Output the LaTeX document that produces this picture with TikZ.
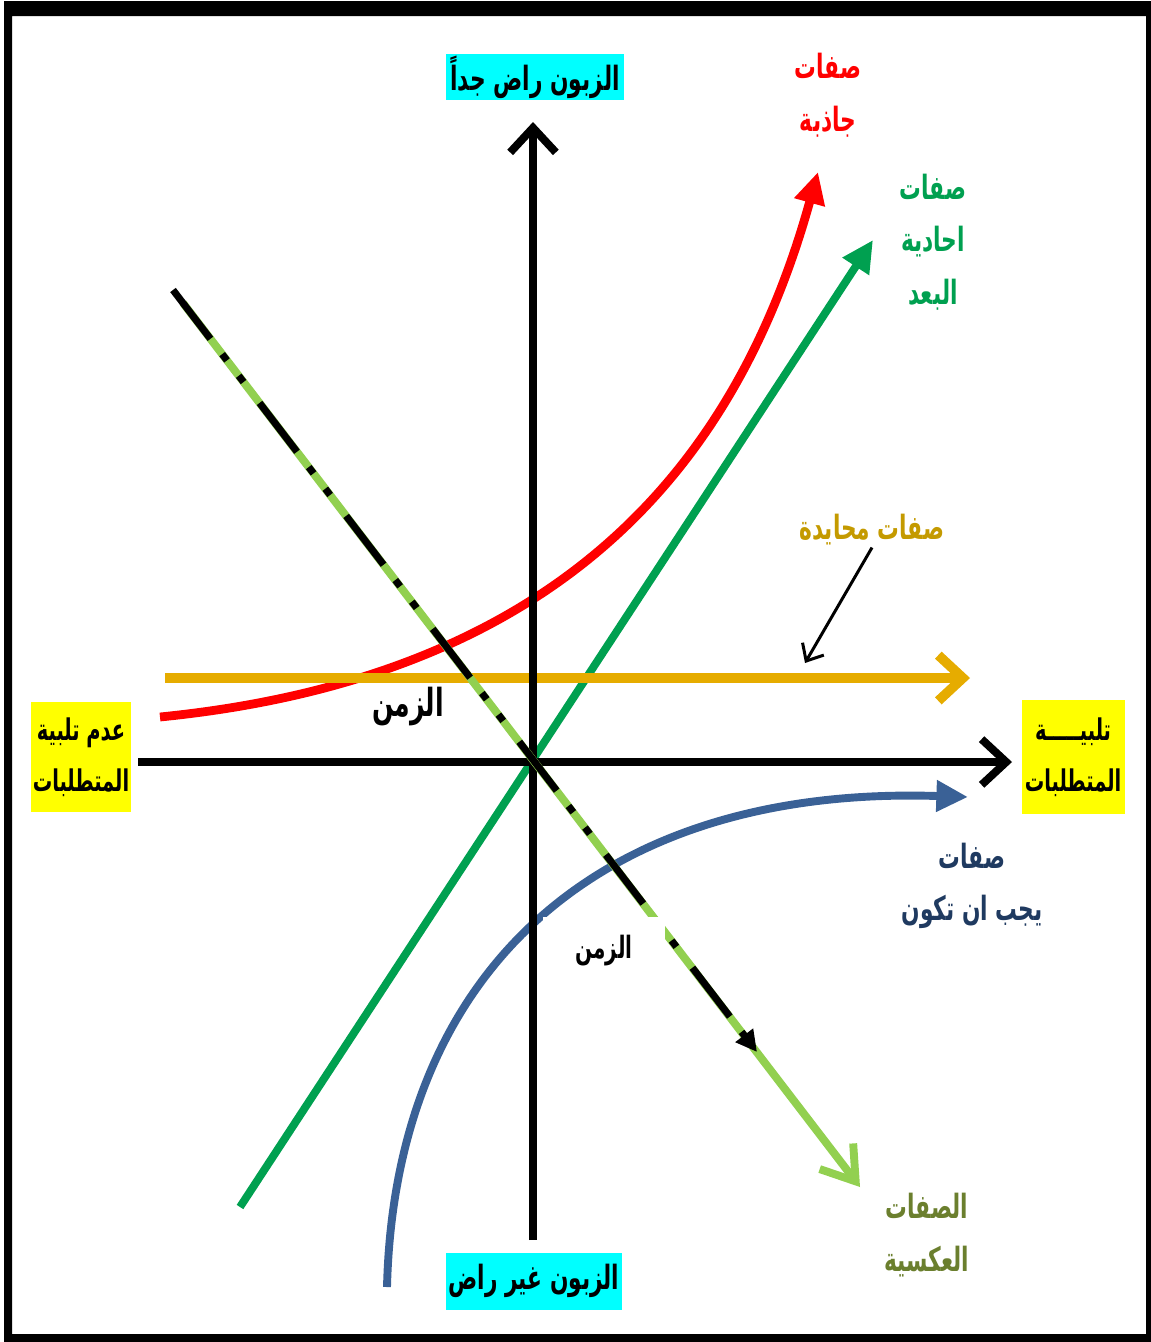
\documentclass[tikz,border=0pt]{standalone}
\usepackage{fontspec}
\newfontfamily\arabicfont[Script=Arabic, FakeStretch=0.65]{DejaVu Sans}
\TeXXeTstate=1
\usetikzlibrary{arrows.meta}

\newcommand{\artext}[1]{\beginR #1\endR}

\definecolor{axiscyan}{HTML}{00FFFF}
\definecolor{reqyellow}{HTML}{FFFF00}
\definecolor{attractred}{HTML}{FF0000}
\definecolor{onedgreen}{HTML}{00A050}
\definecolor{neutralgold}{HTML}{E6AC00}
\definecolor{neutraltext}{HTML}{C49A00}
\definecolor{mustblue}{HTML}{3A6196}
\definecolor{mustnavy}{HTML}{1F3A60}
\definecolor{reverselime}{HTML}{92D050}
\definecolor{reverseolive}{HTML}{6B7F2E}

\tikzset{
  lbl/.style={font=\arabicfont\bfseries\fontsize{19}{30}\selectfont, align=center, inner sep=1pt},
  axisbox/.style={lbl, fill=axiscyan},
  reqbox/.style={lbl, fill=reqyellow, font=\arabicfont\bfseries\fontsize{17}{29}\selectfont},
  barb/.style={-{Straight Barb[length=14pt,width=26pt]}},
  tri/.style={-{Triangle[length=18pt,width=17pt]}}
}

\begin{document}
\begin{tikzpicture}[x=0.02cm, y=-0.02cm]
\useasboundingbox (0,0) rectangle (1151,1342);
% frame
\fill[even odd rule] (4,1) rectangle (1151,1342) (12,16) rectangle (1146,1334);

% end points
\coordinate (xl) at (138,762);
\coordinate (xr) at (1012,762);
\coordinate (yb) at (533,1240);
\coordinate (yt) at (533,122);
\coordinate (r0) at (160,717);
\coordinate (r1) at (818,172);
\coordinate (g0) at (240,1207);
\coordinate (g1) at (873,240);
\coordinate (b0) at (387,1287);
\coordinate (b1) at (968,797);
\coordinate (n0) at (165,678);
\coordinate (n1) at (970,678);
\coordinate (t0) at (173,290);
\coordinate (t1) at (860,1187);
\coordinate (tb) at (757,1052);
\coordinate (np) at (805,663);

% curves
\draw[attractred, line width=5pt, tri] (r0) .. controls (580,675) and (742,445) .. (r1);
\draw[onedgreen, line width=4.5pt, tri] (g0) -- (g1);
\draw[mustblue, line width=4.5pt, tri] (b0) .. controls (395,970) and (600,785) .. (b1);
\draw[neutralgold, line width=5.5pt, barb] (n0) -- (n1);

% axes
\draw[line width=4.5pt, barb] (xl) -- (xr);
\draw[line width=4.5pt, barb] (yb) -- (yt);

% time
\draw[reverselime, line width=4.5pt, -{Straight Barb[length=18pt,width=24pt]}] ([shift={(10,13)}]t0) -- (t1);
\draw[line width=4pt, dash pattern=on 35pt off 11pt on 4.5pt off 11pt on 4.5pt off 15pt, -{Triangle[length=12pt,width=12pt]}] (t0) -- (tb);

% labels
\node (satisfied) [axisbox, minimum width=3.56cm, minimum height=0.94cm] at (535,77) {\artext{الزبون راض جداً}};
\node (unsatisfied) [axisbox, minimum width=3.52cm, minimum height=1.14cm] at (534,1281) {\artext{الزبون غير راض}};
\node (notmet) [reqbox, minimum width=1.94cm, minimum height=2.2cm] at (81,757) {\artext{عدم تلبية}\\\artext{المتطلبات}};
\node (met) [reqbox, minimum width=2.06cm, minimum height=2.3cm] at (1073,757) {\artext{تلبيـــــة}\\\artext{المتطلبات}};
\node (attract) [lbl, text=attractred] at (828,95) {\artext{صفات}\\\artext{جاذبة}};
\node (oned) [lbl, text=onedgreen] at (933,242) {\artext{صفات}\\\artext{احادية}\\\artext{البعد}};
\node (neutral) [lbl, text=neutraltext] at (872,530) {\artext{صفات محايدة}};
\node (mustbe) [lbl, text=mustnavy] at (972,886) {\artext{صفات}\\\artext{يجب ان تكون}};
\node (reverse) [lbl, text=reverseolive] at (927,1235) {\artext{الصفات}\\\artext{العكسية}};
\node (time1) [lbl, font=\arabicfont\bfseries\fontsize{22}{26}\selectfont] at (408,707) {\artext{الزمن}};
\node (time2) [lbl, font=\arabicfont\bfseries\fontsize{17.5}{20}\selectfont, fill=white, minimum width=2.44cm, minimum height=1.36cm] at (604,951) {\artext{الزمن}};

\draw[line width=1.7pt, -{Straight Barb[length=8pt,width=14pt]}] (neutral.south) -- (np);
\end{tikzpicture}
\end{document}
